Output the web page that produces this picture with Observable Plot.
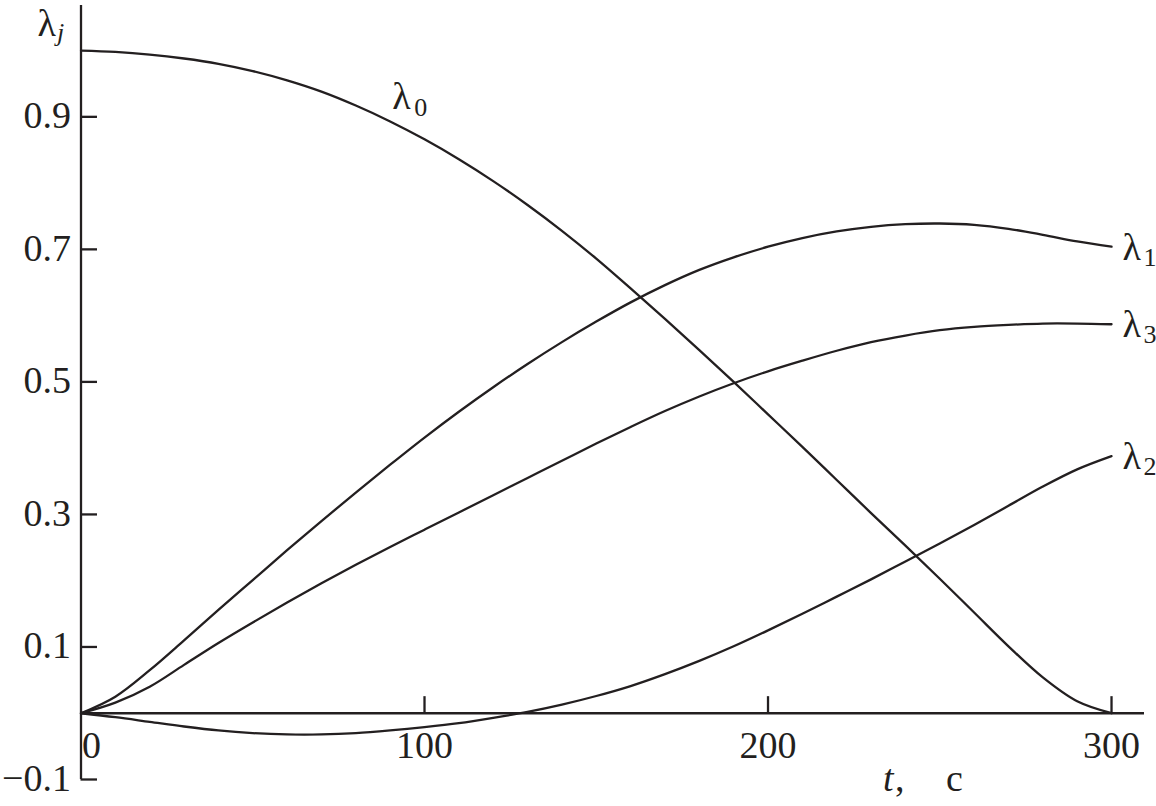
<!DOCTYPE html>
<html>
<head>
<meta charset="utf-8">
<script src="https://cdn.jsdelivr.net/npm/d3@7"></script>
<script src="https://cdn.jsdelivr.net/npm/@observablehq/plot@0.6"></script>
<style>
  html, body { margin: 0; padding: 0; background: #fff; }
  #chart svg { display: block; }
</style>
</head>
<body>
<div id="chart"></div>
<script>
// time, s
const tValues = [0,10,20,30,40,50,60,70,80,90,100,110,120,130,140,150,160,170,180,190,200,210,220,230,240,250,260,270,280,290,300];

const lambda0 = [1.000,0.998,0.994,0.988,0.980,0.969,0.955,0.938,0.917,0.893,0.866,0.836,0.803,0.767,0.728,0.686,0.641,0.595,0.548,0.500,0.451,0.402,0.352,0.302,0.253,0.203,0.152,0.101,0.054,0.018,0.000];
const lambda1 = [0.000,0.025,0.065,0.110,0.156,0.201,0.246,0.290,0.333,0.375,0.416,0.455,0.492,0.527,0.560,0.591,0.620,0.646,0.669,0.688,0.704,0.717,0.727,0.734,0.738,0.739,0.737,0.731,0.722,0.712,0.704];
const lambda2 = [0.000,-0.006,-0.013,-0.020,-0.026,-0.030,-0.032,-0.032,-0.030,-0.026,-0.021,-0.015,-0.007,0.002,0.013,0.026,0.041,0.059,0.079,0.101,0.125,0.150,0.176,0.202,0.229,0.256,0.284,0.313,0.342,0.368,0.388];
const lambda3 = [0.000,0.016,0.040,0.073,0.106,0.137,0.167,0.196,0.224,0.251,0.277,0.303,0.329,0.355,0.381,0.407,0.432,0.456,0.478,0.498,0.516,0.532,0.547,0.560,0.570,0.578,0.583,0.586,0.588,0.588,0.587];

const seriesNames = ["0", "1", "2", "3"];
const seriesValues = [lambda0, lambda1, lambda2, lambda3];

const xTicks = [0, 100, 200, 300];
const yTicks = [0.9, 0.7, 0.5, 0.3, 0.1, -0.1];
const yTickLabels = ["0.9", "0.7", "0.5", "0.3", "0.1", "\u22120.1"];

// long table
const rows = [];
seriesNames.forEach((name, i) => {
  tValues.forEach((t, j) => rows.push({series: name, t, v: seriesValues[i][j]}));
});

// labels at curve ends (λ1, λ2, λ3) and λ0 placed near t = 90
const last = tValues.length - 1;
const endLabels = [1, 2, 3].map(i => ({sub: seriesNames[i], t: tValues[last], v: seriesValues[i][last]}));
const l0Index = tValues.indexOf(90);
const midLabels = [{sub: "0", t: tValues[l0Index], v: lambda0[l0Index]}];

const ink = "#231f20";
const font = "'Liberation Serif', 'Times New Roman', serif";
const big = 38, small = 26;
const sw = 2.3;

const chart = Plot.plot({
  width: 1156,
  height: 806,
  marginLeft: 80.5,
  marginRight: 12,
  marginTop: 5,
  marginBottom: 27,
  x: {domain: [0, 309.6], axis: null},
  y: {domain: [-0.1, 1.068], axis: null},
  style: {fontFamily: font, background: "white", color: ink, overflow: "visible"},
  marks: [
    // axes
    Plot.ruleX([0], {stroke: ink, strokeWidth: sw}),
    Plot.ruleY([0], {stroke: ink, strokeWidth: sw}),
    Plot.ruleY(yTicks, {y: d => d, x1: 0, x2: 4.8, stroke: ink, strokeWidth: sw}),
    Plot.ruleX(xTicks.filter(d => d > 0), {x: d => d, y1: 0, y2: 0.025, stroke: ink, strokeWidth: sw}),
    Plot.text(yTicks, {x: 0, y: d => d, text: (d, i) => yTickLabels[i], textAnchor: "end", dx: -10, dy: -1, fontSize: big, fill: ink}),
    Plot.text(xTicks.filter(d => d > 0), {x: d => d, y: 0, text: d => String(d), dy: 33, fontSize: big, fill: ink}),
    Plot.text(xTicks.filter(d => d === 0), {x: d => d, y: 0, text: d => String(d), textAnchor: "start", dx: 1, dy: 33, fontSize: big, fill: ink}),
    // curves
    Plot.line(rows, {x: "t", y: "v", z: "series", curve: "catmull-rom", stroke: ink, strokeWidth: sw}),
    // curve labels
    Plot.text(endLabels, {x: "t", y: "v", text: d => "\u03bb", textAnchor: "start", lineAnchor: "bottom", dx: 11, dy: 13, fontSize: big, fill: ink}),
    Plot.text(endLabels, {x: "t", y: "v", text: "sub", textAnchor: "start", lineAnchor: "bottom", dx: 32, dy: 19, fontSize: small, fill: ink}),
    Plot.text(midLabels, {x: "t", y: "v", text: d => "\u03bb", textAnchor: "start", lineAnchor: "bottom", dx: 2, dy: -12, fontSize: big, fill: ink}),
    Plot.text(midLabels, {x: "t", y: "v", text: "sub", textAnchor: "start", lineAnchor: "bottom", dx: 24, dy: -5, fontSize: small, fill: ink}),
    // axis titles
    Plot.text(["\u03bb"], {frameAnchor: "top-left", textAnchor: "start", lineAnchor: "bottom", dx: -43.5, dy: 30, fontSize: big, fill: ink}),
    Plot.text(["j"], {frameAnchor: "top-left", textAnchor: "start", lineAnchor: "bottom", dx: -24, dy: 35, fontSize: small, fontStyle: "italic", fill: ink}),
    Plot.text(["t"], {frameAnchor: "bottom-left", textAnchor: "start", lineAnchor: "bottom", dx: 802, dy: 11, fontSize: big, fontStyle: "italic", fill: ink}),
    Plot.text([","], {frameAnchor: "bottom-left", textAnchor: "start", lineAnchor: "bottom", dx: 814, dy: 11, fontSize: big, fill: ink}),
    Plot.text(["\u0441"], {frameAnchor: "bottom-left", textAnchor: "start", lineAnchor: "bottom", dx: 865, dy: 11, fontSize: big, fill: ink})
  ]
});
document.getElementById("chart").appendChild(chart);
</script>
</body>
</html>
